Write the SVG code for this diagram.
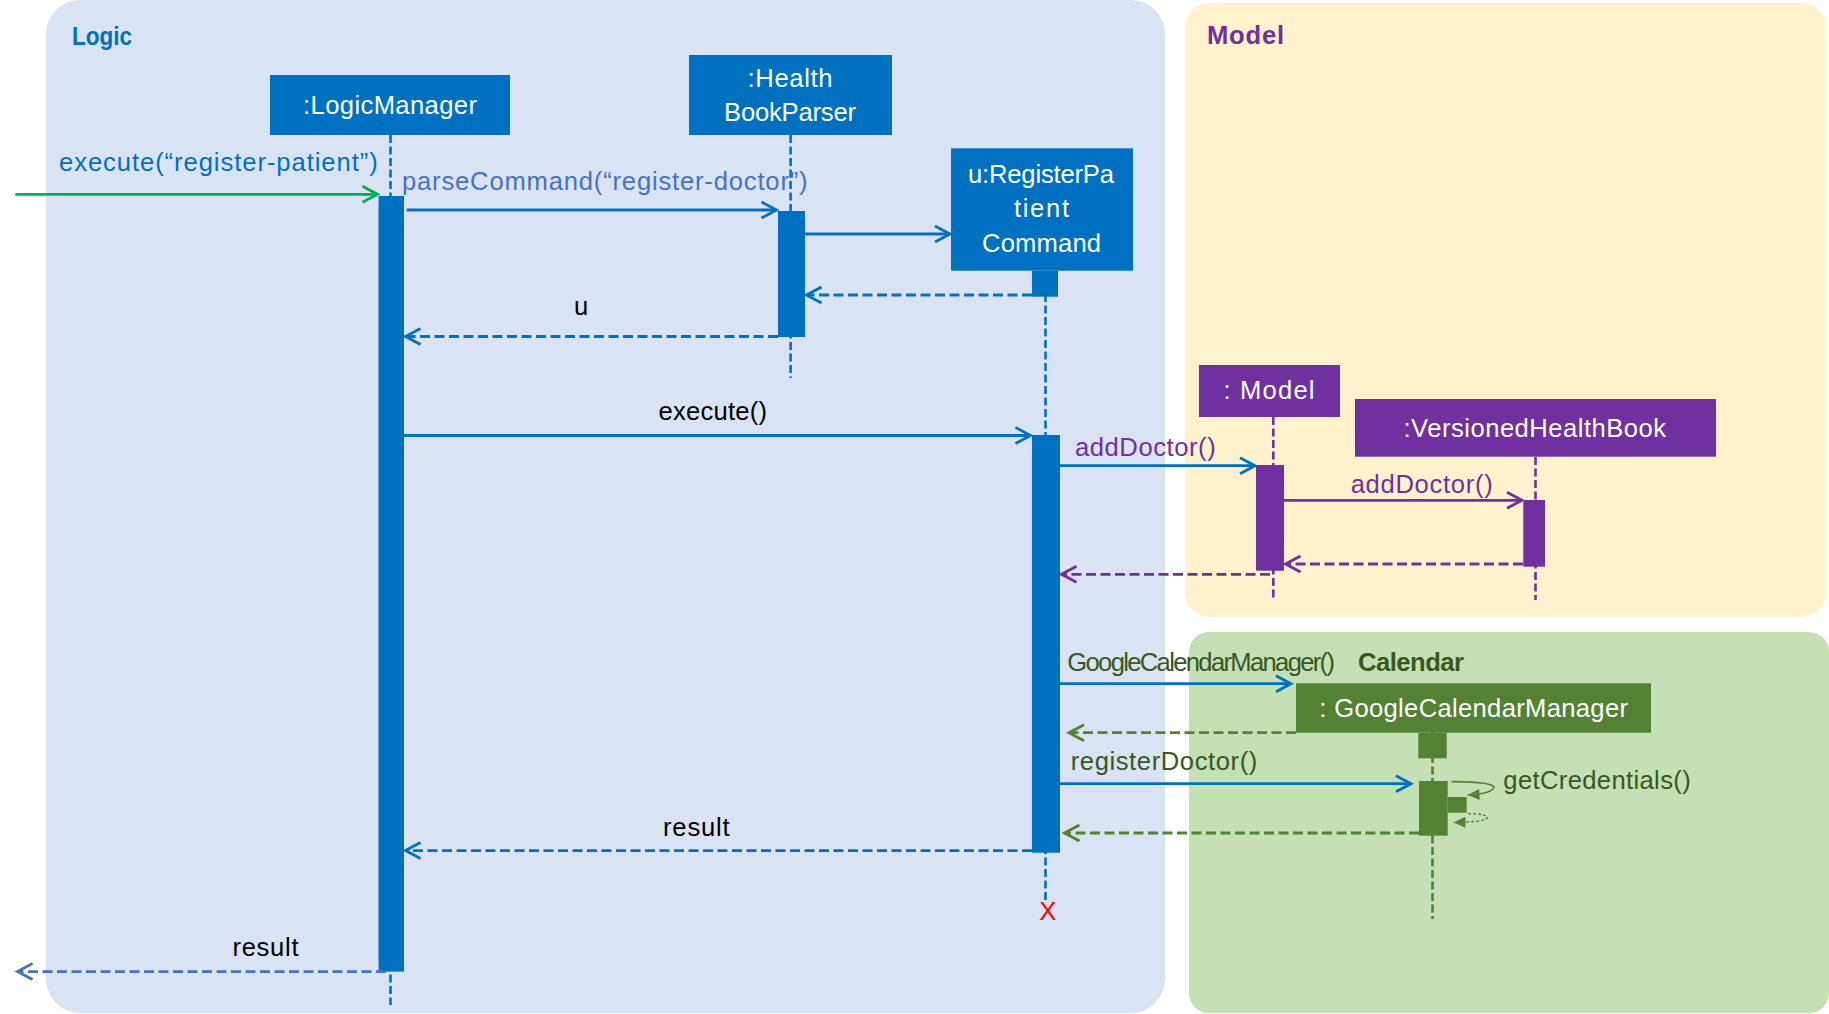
<svg xmlns="http://www.w3.org/2000/svg" width="1829" height="1014" viewBox="0 0 1829 1014">
<style>
text{font-family:"Liberation Sans",Arial,sans-serif;font-size:25.6px}
.t{font-weight:bold}
.w{fill:#FFFFFF}
.blue{fill:#0070C0}
.purple{fill:#7030A0}
.green{fill:#548235}
.ll{fill:none;stroke-width:2.6;stroke-dasharray:8 3.5}
.msg{fill:none;stroke-width:2.8}
.ret{fill:none;stroke-width:2.8;stroke-dasharray:10 4.5}
.lb{stroke:#0070C0}
.lp{stroke:#7030A0}
.lg{stroke:#548235}
</style>
<defs>
<marker id="aBlue" markerUnits="userSpaceOnUse" viewBox="0 0 24 24" markerWidth="24" markerHeight="24" refX="19" refY="12" orient="auto"><path d="M4,4 L19,12 L4,20" fill="none" stroke="#0070C0" stroke-width="2.8" stroke-dasharray="none"/></marker>
<marker id="aLight" markerUnits="userSpaceOnUse" viewBox="0 0 24 24" markerWidth="24" markerHeight="24" refX="19" refY="12" orient="auto"><path d="M4,4 L19,12 L4,20" fill="none" stroke="#4472C4" stroke-width="2.8" stroke-dasharray="none"/></marker>
<marker id="aGreen" markerUnits="userSpaceOnUse" viewBox="0 0 24 24" markerWidth="24" markerHeight="24" refX="19" refY="12" orient="auto"><path d="M4,4 L19,12 L4,20" fill="none" stroke="#00B050" stroke-width="2.8" stroke-dasharray="none"/></marker>
<marker id="aPurple" markerUnits="userSpaceOnUse" viewBox="0 0 24 24" markerWidth="24" markerHeight="24" refX="19" refY="12" orient="auto"><path d="M4,4 L19,12 L4,20" fill="none" stroke="#7030A0" stroke-width="2.8" stroke-dasharray="none"/></marker>
<marker id="aDkGreen" markerUnits="userSpaceOnUse" viewBox="0 0 24 24" markerWidth="24" markerHeight="24" refX="19" refY="12" orient="auto"><path d="M4,4 L19,12 L4,20" fill="none" stroke="#548235" stroke-width="2.8" stroke-dasharray="none"/></marker>
<marker id="tri" markerUnits="userSpaceOnUse" viewBox="0 0 14 12" markerWidth="14" markerHeight="12" refX="13" refY="6" orient="auto"><path d="M1,0.5 L13,6 L1,11.5 Z" fill="#548235" stroke="none"/></marker>
</defs>

<g id="panel-logic">
<rect x="46" y="0" width="1119" height="1013" rx="34" ry="34" fill="#DAE3F3"/>
<text class="t blue" x="72" y="45" textLength="60" lengthAdjust="spacingAndGlyphs">Logic</text>
</g>
<g id="panel-model">
<rect x="1185" y="3" width="641" height="614" rx="24" ry="24" fill="#FFF2CC"/>
<text class="t purple" x="1207" y="44" textLength="77">Model</text>
</g>
<g id="panel-calendar">
<rect x="1189" y="632" width="640" height="381" rx="20" ry="20" fill="#C5E0B4"/>
<text class="t" fill="#385723" x="1358" y="670.7" textLength="106">Calendar</text>
</g>

<g id="node-logicmanager">
<line class="ll lb" x1="390.5" y1="135" x2="390.5" y2="1005"/>
<rect x="270" y="75" width="240" height="60" fill="#0070C0"/>
<text class="w" x="390" y="114" text-anchor="middle" textLength="174">:LogicManager</text>
<rect x="378.5" y="196" width="25.5" height="775.6" fill="#0070C0"/>
</g>

<g id="node-healthbookparser">
<line class="ll lb" x1="790.6" y1="135" x2="790.6" y2="378"/>
<rect x="689" y="55" width="203" height="80" fill="#0070C0"/>
<text class="w" x="790" y="87" text-anchor="middle" textLength="85">:Health</text>
<text class="w" x="790" y="121" text-anchor="middle" textLength="132">BookParser</text>
<rect x="778" y="211" width="27" height="126" fill="#0070C0"/>
</g>

<g id="node-registerpatientcommand">
<line class="ll lb" x1="1045.5" y1="271" x2="1045.5" y2="903"/>
<rect x="951" y="148.3" width="182" height="122.4" fill="#0070C0"/>
<text class="w" x="1041" y="183.3" text-anchor="middle" textLength="146">u:RegisterPa</text>
<text class="w" x="1041.5" y="217.3" text-anchor="middle" textLength="55">tient</text>
<text class="w" x="1041.5" y="251.7" text-anchor="middle" textLength="119">Command</text>
<rect x="1032" y="270.7" width="26" height="26" fill="#0070C0"/>
<rect x="1032" y="435" width="28" height="417.7" fill="#0070C0"/>
<text x="1039.3" y="920" fill="#FF0000" font-size="24" textLength="14">X</text>
</g>

<g id="node-model">
<line class="ll lp" x1="1273.3" y1="417" x2="1273.3" y2="600"/>
<rect x="1199" y="365" width="141" height="52" fill="#7030A0"/>
<text class="w" x="1223.5" y="399" textLength="91">: Model</text>
<rect x="1256" y="465" width="28" height="105.7" fill="#7030A0"/>
</g>

<g id="node-versionedhealthbook">
<line class="ll lp" x1="1535.5" y1="457" x2="1535.5" y2="600"/>
<rect x="1355" y="399" width="361" height="57.7" fill="#7030A0"/>
<text class="w" x="1403.5" y="436.6" textLength="262.5">:VersionedHealthBook</text>
<rect x="1523.3" y="500" width="21.7" height="66.7" fill="#7030A0"/>
</g>

<g id="node-googlecalendarmanager">
<line class="ll lg" x1="1432.5" y1="732" x2="1432.5" y2="919"/>
<rect x="1296" y="683.3" width="355" height="49.4" fill="#548235"/>
<text class="w" x="1319.3" y="717" textLength="308.7">: GoogleCalendarManager</text>
<rect x="1418.3" y="732.7" width="28.4" height="25.6" fill="#548235"/>
<rect x="1419" y="781" width="28.7" height="54.7" fill="#548235"/>
<rect x="1447.7" y="797" width="19" height="15.7" fill="#548235"/>
</g>

<g id="connectors">
<line class="msg" stroke="#00B050" x1="15.3" y1="194.3" x2="377.5" y2="194.3" marker-end="url(#aGreen)"/>
<text class="blue" x="59" y="170.7" textLength="318.7">execute(“register-patient”)</text>

<line class="msg lb" x1="406.7" y1="210" x2="776.5" y2="210" marker-end="url(#aBlue)"/>
<text fill="#4472C4" x="402" y="189.5" textLength="405.6">parseCommand(“register-doctor”)</text>

<line class="msg lb" x1="805" y1="234" x2="950" y2="234" marker-end="url(#aBlue)"/>

<line class="ret lb" x1="1032" y1="295" x2="806.5" y2="295" marker-end="url(#aBlue)"/>

<line class="ret lb" x1="778" y1="336.5" x2="405.5" y2="336.5" marker-end="url(#aBlue)"/>
<text fill="#000000" x="574" y="315" textLength="13">u</text>

<line class="msg lb" x1="404" y1="435.5" x2="1030.5" y2="435.5" marker-end="url(#aBlue)"/>
<text fill="#000000" x="658.5" y="420" textLength="108.5">execute()</text>

<line class="msg lb" x1="1060" y1="465.7" x2="1255" y2="465.7" marker-end="url(#aBlue)"/>
<text class="purple" x="1075" y="455.7" textLength="140.7">addDoctor()</text>

<line class="msg lp" x1="1284" y1="500.3" x2="1522" y2="500.3" marker-end="url(#aPurple)"/>
<text class="purple" x="1350.7" y="492.7" textLength="142">addDoctor()</text>

<line class="ret lp" x1="1523" y1="564" x2="1285.5" y2="564" marker-end="url(#aPurple)"/>

<line class="ret lp" x1="1270" y1="574.3" x2="1061.5" y2="574.3" marker-end="url(#aPurple)"/>

<line class="msg lb" x1="1060" y1="683.7" x2="1291" y2="683.7" marker-end="url(#aBlue)"/>
<text fill="#385723" x="1067.3" y="670.7" font-size="22.4" textLength="267.7">GoogleCalendarManager()</text>

<line class="ret lg" x1="1296" y1="732.7" x2="1069" y2="732.7" marker-end="url(#aDkGreen)"/>

<line class="msg lb" x1="1060" y1="783.7" x2="1411" y2="783.7" marker-end="url(#aBlue)"/>
<text fill="#385723" x="1070.7" y="770" textLength="186.6">registerDoctor()</text>

<path d="M1451.5,781.6 C1478,781.5 1497,784 1493.5,788.5 C1490.5,792.5 1478,794.5 1467.5,795" fill="none" stroke="#548235" stroke-width="1.6" marker-end="url(#tri)"/>
<path d="M1468,813.6 C1480,813.4 1490,815.5 1486.8,818.5 C1483.5,821.3 1470,822.3 1453.5,822.4" fill="none" stroke="#548235" stroke-width="1.4" stroke-dasharray="3 2" marker-end="url(#tri)"/>
<text fill="#385723" x="1503.3" y="789" textLength="187.4">getCredentials()</text>

<line class="ret lg" x1="1419" y1="833" x2="1064.5" y2="833" marker-end="url(#aDkGreen)"/>

<line class="ret lb" x1="1032" y1="850.6" x2="405.5" y2="850.6" marker-end="url(#aBlue)"/>
<text fill="#000000" x="663" y="836" textLength="66.7">result</text>

<line class="ret" stroke="#4472C4" x1="386" y1="971.6" x2="17.5" y2="971.6" marker-end="url(#aLight)"/>
<text fill="#000000" x="232.5" y="956" textLength="66">result</text>
</g>
</svg>
